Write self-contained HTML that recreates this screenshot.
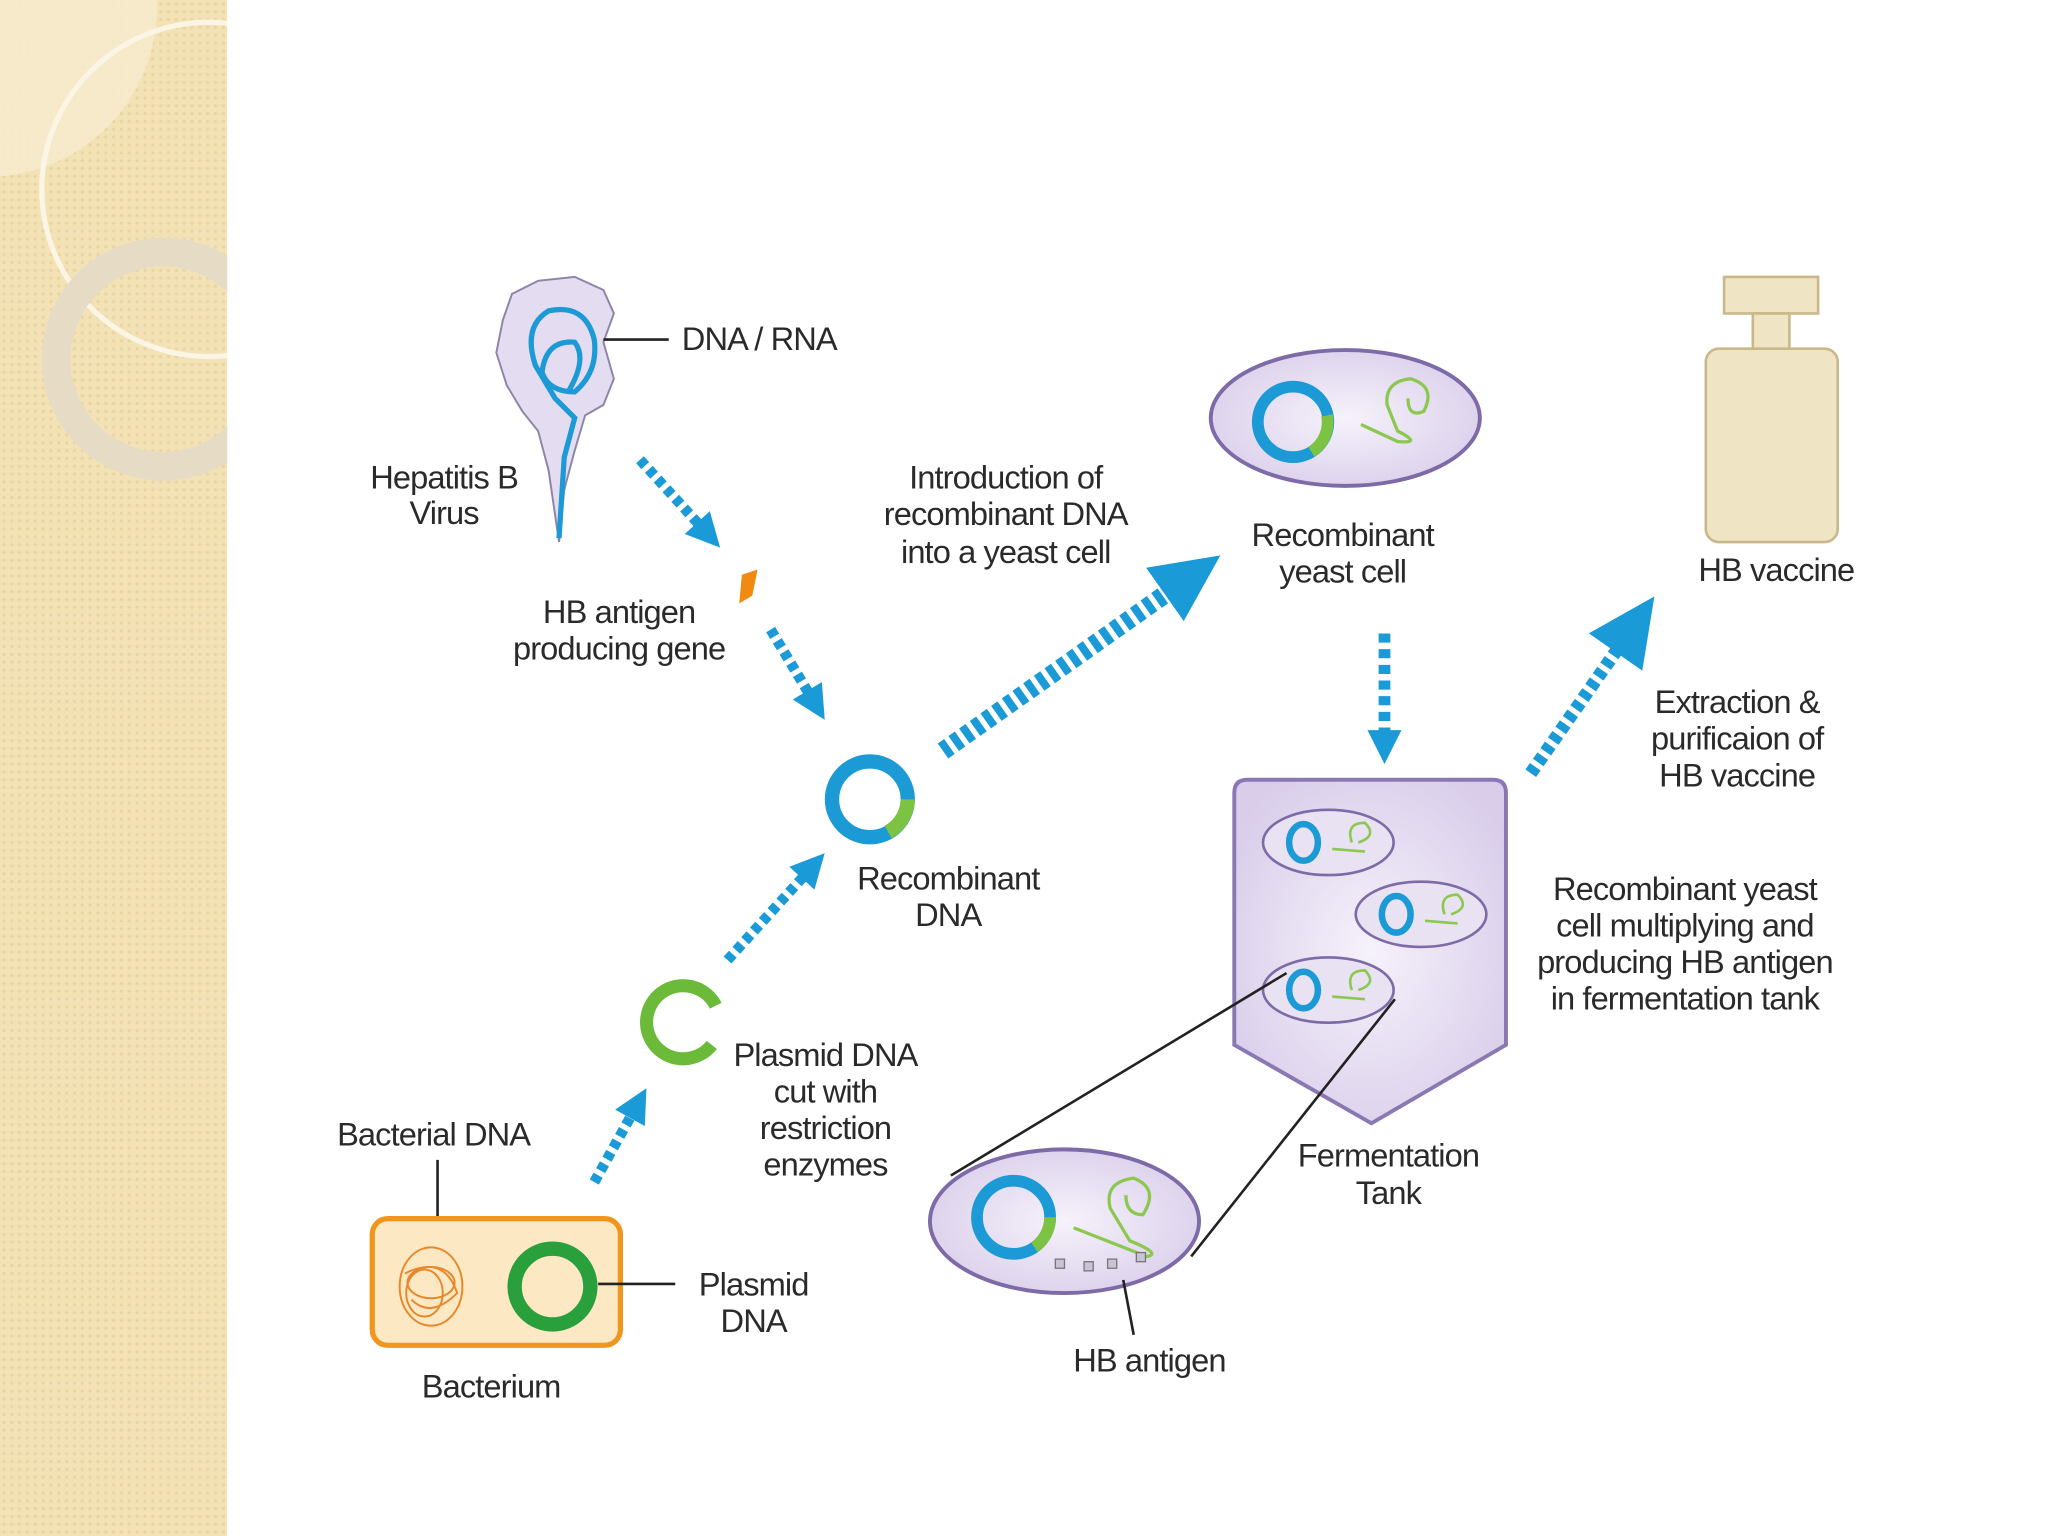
<!DOCTYPE html>
<html><head><meta charset="utf-8"><style>
html,body{margin:0;padding:0;background:#fff}
svg{display:block}
text{font-family:"Liberation Sans",Arial,sans-serif;font-size:25px;fill:#2a2a2a;text-anchor:middle;letter-spacing:-0.7px}
</style></head><body>
<svg width="2048" height="1536" viewBox="0 0 1568 1176" xmlns="http://www.w3.org/2000/svg">
<defs>
<pattern id="dots" width="6" height="6" patternUnits="userSpaceOnUse"><rect width="6" height="6" fill="#f3e2b6"/><circle cx="3" cy="3" r="1.3" fill="#ead5a0"/></pattern>
<marker id="ah" markerUnits="userSpaceOnUse" markerWidth="30" markerHeight="30" refX="1" refY="13" orient="auto"><path d="M0,0 L26,13 L0,26 z" fill="#1b9ad8"/></marker>
<marker id="ahb" markerUnits="userSpaceOnUse" markerWidth="60" markerHeight="60" refX="2" refY="25" orient="auto"><path d="M0,0 L52,25 L0,50 z" fill="#1b9ad8"/></marker>
<radialGradient id="lav" cx="50%" cy="50%" r="60%"><stop offset="0" stop-color="#f6f2fb"/><stop offset="1" stop-color="#d9cdea"/></radialGradient>
</defs>
<!-- sidebar -->
<rect x="0" y="0" width="174" height="1176" fill="url(#dots)"/>
<path d="M0,0 L120,0 A130,130 0 0 1 0,135 z" fill="#f7ecd0" opacity="0.8"/>
<circle cx="160" cy="145" r="128" fill="none" stroke="#fbf5e6" stroke-width="4"/>
<circle cx="125" cy="275" r="82" fill="none" stroke="#e6dcc6" stroke-width="22"/>
<rect x="174" y="0" width="1394" height="1176" fill="#fff"/>

<!-- virus -->
<path d="M392,225 L412,215 L440,212 L462,222 L470,240 L462,262 L470,290 L462,310 L448,318 L440,345 L432,375 L428,415 L420,360 L412,330 L400,315 L388,295 L380,270 L385,245 z" fill="#e4dcf0" stroke="#8e84a8" stroke-width="1.5"/>
<path d="M428,412 L432,350 L440,320 L425,305 L410,280 Q400,250 420,238 Q448,232 455,260 Q458,285 440,300 Q420,300 415,285 Q418,260 440,262 Q450,275 435,300" fill="none" stroke="#1c9ad6" stroke-width="4"/>
<line x1="462" y1="260" x2="512" y2="260" stroke="#222" stroke-width="2"/>
<text x="522" y="268" style="text-anchor:start">DNA / RNA</text>
<text x="340" y="374">Hepatitis B</text>
<text x="340" y="401">Virus</text>
<path d="M568,440 L580,436 L576,456 L566,462 z" fill="#f08a10"/>
<text x="474" y="477">HB antigen</text>
<text x="474" y="505">producing gene</text>

<!-- arrows -->
<g stroke="#1b9ad8" fill="none">
<line x1="490" y1="352" x2="534.5" y2="400.8" stroke-width="8" stroke-dasharray="6 4" marker-end="url(#ah)"/>
<line x1="590" y1="482" x2="618.6" y2="529.7" stroke-width="8" stroke-dasharray="6 4" marker-end="url(#ah)"/>
<line x1="722" y1="575" x2="893.5" y2="454" stroke-width="14" stroke-dasharray="6 4" marker-end="url(#ahb)"/>
<line x1="1060" y1="485" x2="1060" y2="560" stroke-width="9" stroke-dasharray="7 5" marker-end="url(#ah)"/>
<line x1="1172" y1="592" x2="1238" y2="497.6" stroke-width="10" stroke-dasharray="6 4" marker-end="url(#ahb)"/>
<line x1="455" y1="905" x2="482.8" y2="855" stroke-width="8" stroke-dasharray="6 4" marker-end="url(#ah)"/>
<line x1="557" y1="735" x2="614.6" y2="671.7" stroke-width="8" stroke-dasharray="6 4" marker-end="url(#ah)"/>
</g>

<!-- recombinant DNA -->
<circle cx="666" cy="612" r="29" fill="none" stroke="#1c9ad6" stroke-width="11"/>
<path d="M695,612 A29,29 0 0 1 680,637" fill="none" stroke="#7cc243" stroke-width="11"/>
<text x="726" y="681">Recombinant</text>
<text x="726" y="709">DNA</text>
<text x="770" y="374">Introduction of</text>
<text x="770" y="402">recombinant DNA</text>
<text x="770" y="431">into a yeast cell</text>

<!-- yeast cell -->
<ellipse cx="1030" cy="320" rx="103" ry="52" fill="url(#lav)" stroke="#7d6aa6" stroke-width="3"/>
<circle cx="990" cy="323" r="27" fill="none" stroke="#1c9ad6" stroke-width="9"/>
<path d="M1016,318 A27,27 0 0 1 1004,346" fill="none" stroke="#7cc243" stroke-width="9"/>
<path d="M1042,325 L1070,338 Q1090,340 1070,330 L1062,310 Q1060,292 1080,290 Q1100,296 1090,315 Q1078,320 1078,305" fill="none" stroke="#8cc850" stroke-width="2.5"/>
<text x="1028" y="418">Recombinant</text>
<text x="1028" y="446">yeast cell</text>

<!-- vaccine bottle -->
<rect x="1320" y="212" width="72" height="28" fill="#efe4c4" stroke="#c9b88a" stroke-width="2"/>
<rect x="1342" y="240" width="28" height="28" fill="#efe4c4" stroke="#c9b88a" stroke-width="2"/>
<rect x="1306" y="267" width="101" height="148" rx="10" fill="#efe4c4" stroke="#c9b88a" stroke-width="2"/>
<text x="1360" y="445">HB vaccine</text>
<text x="1330" y="546">Extraction &amp;</text>
<text x="1330" y="574">purificaion of</text>
<text x="1330" y="602">HB vaccine</text>

<!-- tank -->
<path d="M955,597 L1143,597 Q1153,597 1153,607 L1153,800 L1050,860 L945,800 L945,607 Q945,597 955,597 z" fill="url(#lav)" stroke="#8a78b2" stroke-width="3"/>
<g fill="#e9e2f3" stroke="#7d6aa6" stroke-width="2">
<ellipse cx="1017" cy="645" rx="50" ry="25"/>
<ellipse cx="1088" cy="700" rx="50" ry="25"/>
<ellipse cx="1017" cy="758" rx="50" ry="25"/>
</g>
<g fill="none" stroke="#1c9ad6" stroke-width="5">
<ellipse cx="998" cy="645" rx="11" ry="14"/>
<ellipse cx="1069" cy="700" rx="11" ry="14"/>
<ellipse cx="998" cy="758" rx="11" ry="14"/>
</g>
<g fill="none" stroke="#8cc850" stroke-width="2">
<path d="M1020,650 L1045,652 M1035,645 Q1030,630 1045,630 Q1055,640 1040,645"/>
<path d="M1091,705 L1116,707 M1106,700 Q1101,685 1116,685 Q1126,695 1111,700"/>
<path d="M1020,763 L1045,765 M1035,758 Q1030,743 1045,743 Q1055,753 1040,758"/>
</g>
<line x1="985" y1="745" x2="728" y2="900" stroke="#222" stroke-width="2"/>
<line x1="1068" y1="765" x2="912" y2="962" stroke="#222" stroke-width="2"/>
<text x="1063" y="893">Fermentation</text>
<text x="1063" y="922">Tank</text>
<text x="1290" y="689">Recombinant yeast</text>
<text x="1290" y="717">cell multiplying and</text>
<text x="1290" y="745">producing HB antigen</text>
<text x="1290" y="773">in fermentation tank</text>

<!-- big cell -->
<ellipse cx="815" cy="935" rx="103" ry="55" fill="url(#lav)" stroke="#7d6aa6" stroke-width="3"/>
<circle cx="776" cy="932" r="28" fill="none" stroke="#1c9ad6" stroke-width="9"/>
<path d="M804,932 A28,28 0 0 1 792,955" fill="none" stroke="#7cc243" stroke-width="9"/>
<path d="M822,940 L878,962 Q890,960 865,950 L850,925 Q845,905 868,902 Q888,910 875,930 Q862,930 862,915" fill="none" stroke="#8cc850" stroke-width="2.5"/>
<g fill="#c9c3d6" stroke="#777" stroke-width="1"><rect x="808" y="964" width="7" height="7"/><rect x="830" y="966" width="7" height="7"/><rect x="848" y="964" width="7" height="7"/><rect x="870" y="959" width="7" height="7"/></g>
<line x1="860" y1="980" x2="868" y2="1022" stroke="#222" stroke-width="2"/>
<text x="880" y="1050">HB antigen</text>

<!-- plasmid cut -->
<path d="M548,770 A28,28 0 1 0 545,800" fill="none" stroke="#6cba3a" stroke-width="10"/>
<text x="632" y="816">Plasmid DNA</text>
<text x="632" y="844">cut with</text>
<text x="632" y="872">restriction</text>
<text x="632" y="900">enzymes</text>

<!-- bacterium -->
<text x="332" y="877">Bacterial DNA</text>
<line x1="335" y1="888" x2="335" y2="942" stroke="#222" stroke-width="2"/>
<rect x="285" y="933" width="190" height="97" rx="12" fill="#fde8c4" stroke="#f0961c" stroke-width="4"/>
<g fill="none" stroke="#e8882a" stroke-width="1.5">
<ellipse cx="330" cy="985" rx="24" ry="30"/><ellipse cx="325" cy="990" rx="14" ry="18"/><ellipse cx="330" cy="982" rx="18" ry="12"/><path d="M310,975 Q340,960 350,990 Q330,1010 315,995"/>
</g>
<circle cx="423" cy="985" r="29" fill="none" stroke="#2aa03c" stroke-width="11"/>
<line x1="458" y1="983" x2="517" y2="983" stroke="#222" stroke-width="2"/>
<text x="577" y="992">Plasmid</text>
<text x="577" y="1020">DNA</text>
<text x="376" y="1070">Bacterium</text>
</svg>
</body></html>
